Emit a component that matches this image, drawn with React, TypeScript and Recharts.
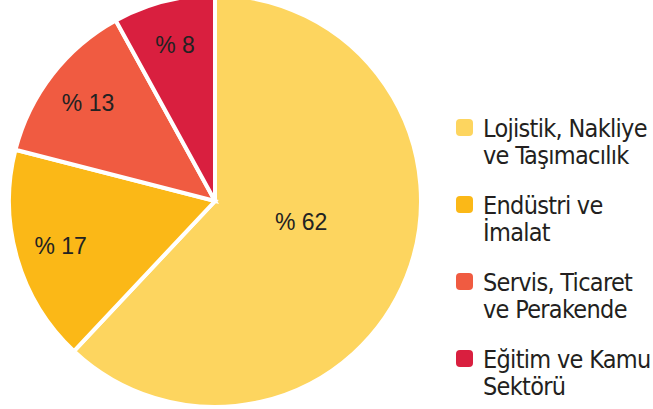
import React from 'react';
import { PieChart, Pie, Cell } from 'recharts';

const sectors = ['Lojistik, Nakliye\nve Taşımacılık', 'Endüstri ve\nİmalat', 'Servis, Ticaret\nve Perakende', 'Eğitim ve Kamu\nSektörü'];
const shares = [62, 17, 13, 8];
const colors = ['#FDD55F', '#FBB817', '#F05B41', '#D91F3F'];

const data = sectors.map((name, i) => ({ name, value: shares[i] }));

const RADIAN = Math.PI / 180;

// labels sit near the outer rim for small slices, closer to the centre for the big one
const renderLabel = ({ cx, cy, midAngle, outerRadius, index, value }: any) => {
  const big = value > 50;
  const r = big ? outerRadius * 0.43 : outerRadius * 0.78;
  const angle = big ? midAngle + 8 : midAngle;
  const x = cx + r * Math.cos(-angle * RADIAN);
  const y = cy + r * Math.sin(-angle * RADIAN);
  return (
    <text
      key={`lbl-${index}`}
      x={x}
      y={y}
      textAnchor="middle"
      dominantBaseline="central"
      fill="#222"
      fontSize={23}
      fontFamily="'Liberation Sans', Arial, sans-serif"
    >
      {`% ${value}`}
    </text>
  );
};

const Legend = () => (
  <div style={{ position: 'absolute', left: 456, top: 115, display: 'flex', flexDirection: 'column', gap: 23 }}>
    {data.map((d, i) => (
      <div key={i} style={{ display: 'flex', alignItems: 'flex-start' }}>
        <div
          style={{
            width: 17,
            height: 17,
            borderRadius: 4,
            background: colors[i],
            marginTop: 4,
            marginRight: 10,
            flexShrink: 0,
          }}
        />
        <div
          style={{
            fontFamily: "'DejaVu Sans Condensed', 'DejaVu Sans', sans-serif",
            fontStretch: 'condensed',
            fontSize: 25,
            letterSpacing: -0.7,
            lineHeight: '27px',
            color: '#231f20',
            whiteSpace: 'pre',
          }}
        >
          {d.name}
        </div>
      </div>
    ))}
  </div>
);

export default function App() {
  return (
    <div style={{ position: 'fixed', left: 0, top: 0, width: 653, height: 409, background: '#fff', overflow: 'hidden' }}>
      <PieChart width={430} height={409} margin={{ top: 0, right: 0, bottom: 0, left: 0 }}>
        <Pie
          data={data}
          dataKey="value"
          cx={215}
          cy={201}
          outerRadius={206}
          startAngle={90}
          endAngle={-270}
          stroke="#fff"
          strokeWidth={4}
          label={renderLabel}
          labelLine={false}
          isAnimationActive={false}
        >
          {data.map((_, i) => (
            <Cell key={`cell-${i}`} fill={colors[i]} />
          ))}
        </Pie>
      </PieChart>
      <Legend />
    </div>
  );
}
